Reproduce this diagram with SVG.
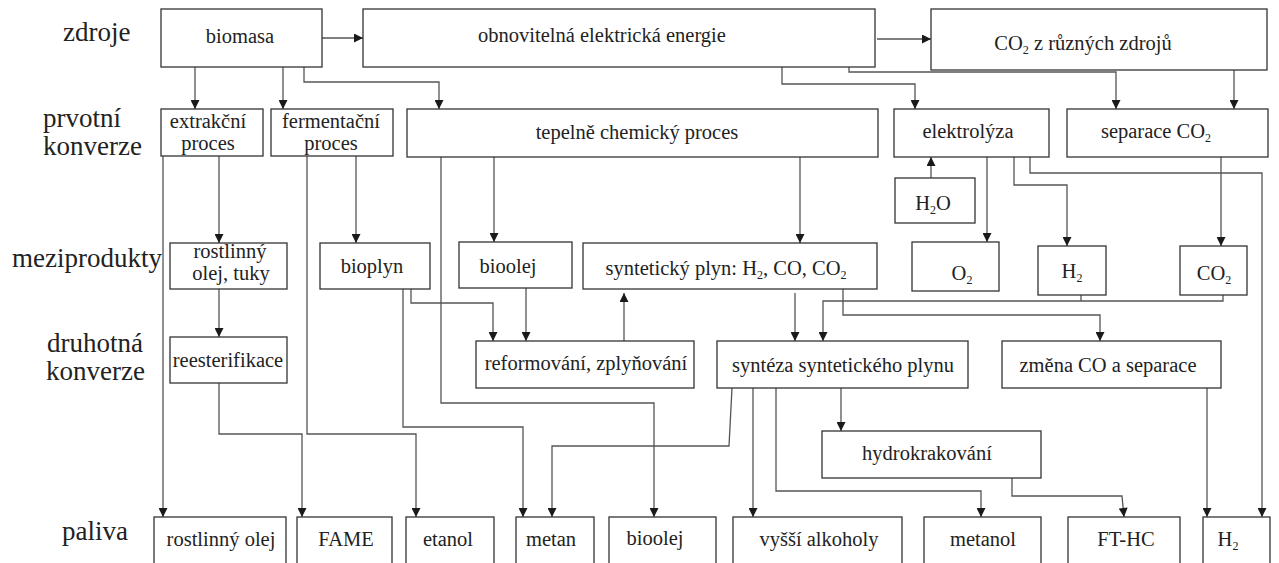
<svg xmlns="http://www.w3.org/2000/svg" width="1279" height="563" viewBox="0 0 1279 563" font-family="'Liberation Serif', 'DejaVu Serif', 'Times New Roman', serif">
<defs>
<style>
.box{fill:#fff;stroke:#333;stroke-width:1.3}
.t{font-family:'Liberation Serif','DejaVu Serif','Times New Roman',serif;font-size:20.5px;fill:#222;text-anchor:middle}
.lbl{font-family:'Liberation Serif','DejaVu Serif','Times New Roman',serif;font-size:27px;fill:#222;text-anchor:start}
.sub{font-size:12px}
.c{fill:none;stroke:#555;stroke-width:1.3}
.a{marker-end:url(#ah)}
</style>
<marker id="ah" viewBox="0 0 10 10" refX="10" refY="5" markerWidth="10" markerHeight="9" markerUnits="userSpaceOnUse" orient="auto">
<path d="M0,0 L10,5 L0,10 z" fill="#1a1a1a"/>
</marker>
</defs>
<rect width="1279" height="563" fill="#fff"/>

<g id="row-labels">
<text class="lbl" x="63" y="41">zdroje</text>
<text class="lbl" x="43" y="127">prvotní</text>
<text class="lbl" x="43" y="155">konverze</text>
<text class="lbl" x="12" y="267">meziprodukty</text>
<text class="lbl" x="47" y="352">druhotná</text>
<text class="lbl" x="46" y="380">konverze</text>
<text class="lbl" x="62" y="540">paliva</text>
</g>

<g id="connectors">
<path class="c a" d="M322,38 H363"/>
<path class="c a" d="M877,39 H931"/>
<path class="c a" d="M195,67 V109"/>
<path class="c a" d="M283,67 V109"/>
<path class="c a" d="M304,67 V82 H439 V109"/>
<path class="c a" d="M782,67 V84 H915 V109"/>
<path class="c a" d="M849,67 V72 H1116 V109"/>
<path class="c a" d="M1234,70 V109"/>
<path class="c a" d="M931,178 V157"/>
<path class="c a" d="M987,157 V242"/>
<path class="c a" d="M1014,157 V185 H1067 V246"/>
<path class="c a" d="M1030,157 V173 H1262 V517"/>
<path class="c a" d="M1221,157 V246"/>
<path class="c a" d="M219,156 V243"/>
<path class="c a" d="M163,156 V517"/>
<path class="c a" d="M356,156 V243"/>
<path class="c a" d="M307,156 V434 H416 V517"/>
<path class="c a" d="M494,157 V242"/>
<path class="c a" d="M800,157 V243"/>
<path class="c a" d="M441,157 V403 H654 V517"/>
<path class="c a" d="M219,289 V337"/>
<path class="c a" d="M219,383 V434 H302 V517"/>
<path class="c a" d="M403,289 V427 H523 V517"/>
<path class="c a" d="M411,289 V303 H493 V341"/>
<path class="c a" d="M526,288 V341"/>
<path class="c a" d="M624,341 V293"/>
<path class="c a" d="M795,293 V341"/>
<path class="c a" d="M1223,295 V301 H823 V341"/>
<path class="c" d="M1081,295 V301"/>
<path class="c a" d="M843,289 V315 H1100 V341"/>
<path class="c a" d="M732,388 L729,446 H552 V517"/>
<path class="c a" d="M753,388 V517"/>
<path class="c a" d="M776,388 V491 H981 V517"/>
<path class="c a" d="M841,388 V431"/>
<path class="c a" d="M1012,478 V496 H1122 L1124,517"/>
<path class="c a" d="M1207,388 V517"/>
</g>

<g id="biomasa"><rect class="box" x="161" y="9" width="161" height="58"/><text class="t" x="240" y="43">biomasa</text></g>
<g id="obnovitelna"><rect class="box" x="363" y="9" width="512" height="58"/><text class="t" x="602" y="42">obnovitelná elektrická energie</text></g>
<g id="co2-zdroje"><rect class="box" x="931" y="9" width="336" height="61"/><text class="t" x="1083" y="50">CO<tspan class="sub" dy="4">2</tspan><tspan dy="-4"> z různých zdrojů</tspan></text></g>

<g id="extrakcni"><rect class="box" x="161" y="109" width="102" height="47"/><text class="t" x="208" y="128">extrakční</text><text class="t" x="208" y="150">proces</text></g>
<g id="fermentacni"><rect class="box" x="271" y="109" width="122" height="47"/><text class="t" x="331" y="128">fermentační</text><text class="t" x="331" y="150">proces</text></g>
<g id="tepelne"><rect class="box" x="407" y="109" width="471" height="48"/><text class="t" x="637" y="139">tepelně chemický proces</text></g>
<g id="elektrolyza"><rect class="box" x="894" y="109" width="155" height="48"/><text class="t" x="968" y="138">elektrolýza</text></g>
<g id="separace"><rect class="box" x="1067" y="109" width="201" height="48"/><text class="t" x="1156" y="138">separace CO<tspan class="sub" dy="4">2</tspan></text></g>
<g id="h2o"><rect class="box" x="895" y="178" width="80" height="45"/><text class="t" x="933" y="210">H<tspan class="sub" dy="4">2</tspan><tspan dy="-4">O</tspan></text></g>

<g id="rostlinny-tuky"><rect class="box" x="170" y="243" width="117" height="46"/><text class="t" x="230" y="258">rostlinný</text><text class="t" x="231" y="280">olej, tuky</text></g>
<g id="bioplyn"><rect class="box" x="320" y="243" width="110" height="46"/><text class="t" x="372" y="273">bioplyn</text></g>
<g id="bioolej-mezi"><rect class="box" x="459" y="242" width="113" height="46"/><text class="t" x="508" y="273">bioolej</text></g>
<g id="synplyn"><rect class="box" x="583" y="243" width="294" height="46"/><text class="t" x="726" y="275">syntetický plyn: H<tspan class="sub" dy="4">2</tspan><tspan dy="-4">, CO, CO</tspan><tspan class="sub" dy="4">2</tspan></text></g>
<g id="o2"><rect class="box" x="912" y="242" width="87" height="49"/><text class="t" x="962" y="280">O<tspan class="sub" dy="4">2</tspan></text></g>
<g id="h2-mezi"><rect class="box" x="1038" y="246" width="68" height="49"/><text class="t" x="1072" y="278">H<tspan class="sub" dy="4">2</tspan></text></g>
<g id="co2-mezi"><rect class="box" x="1180" y="246" width="67" height="49"/><text class="t" x="1214" y="280">CO<tspan class="sub" dy="4">2</tspan></text></g>

<g id="reesterifikace"><rect class="box" x="170" y="337" width="117" height="46"/><text class="t" x="228" y="367">reesterifikace</text></g>
<g id="reformovani"><rect class="box" x="476" y="341" width="218" height="47"/><text class="t" x="586" y="370">reformování, zplyňování</text></g>
<g id="synteza"><rect class="box" x="717" y="341" width="251" height="47"/><text class="t" x="843" y="372">syntéza syntetického plynu</text></g>
<g id="zmena-co"><rect class="box" x="1002" y="341" width="219" height="47"/><text class="t" x="1108" y="372">změna CO a separace</text></g>
<g id="hydrokrakovani"><rect class="box" x="822" y="431" width="219" height="47"/><text class="t" x="927" y="460">hydrokrakování</text></g>

<g id="f-rostlinny-olej"><rect class="box" x="154" y="517" width="132" height="50"/><text class="t" x="221" y="546">rostlinný olej</text></g>
<g id="f-fame"><rect class="box" x="297" y="517" width="95" height="50"/><text class="t" x="346" y="546">FAME</text></g>
<g id="f-etanol"><rect class="box" x="406" y="517" width="88" height="50"/><text class="t" x="448" y="546">etanol</text></g>
<g id="f-metan"><rect class="box" x="516" y="517" width="78" height="50"/><text class="t" x="551" y="546">metan</text></g>
<g id="f-bioolej"><rect class="box" x="609" y="517" width="107" height="50"/><text class="t" x="655" y="545">bioolej</text></g>
<g id="f-vyssi-alkoholy"><rect class="box" x="733" y="517" width="169" height="50"/><text class="t" x="819" y="546">vyšší alkoholy</text></g>
<g id="f-metanol"><rect class="box" x="924" y="517" width="117" height="50"/><text class="t" x="983" y="546">metanol</text></g>
<g id="f-ft-hc"><rect class="box" x="1068" y="517" width="112" height="50"/><text class="t" x="1126" y="546">FT-HC</text></g>
<g id="f-h2"><rect class="box" x="1203" y="517" width="67" height="50"/><text class="t" x="1228" y="546">H<tspan class="sub" dy="4">2</tspan></text></g>
</svg>
